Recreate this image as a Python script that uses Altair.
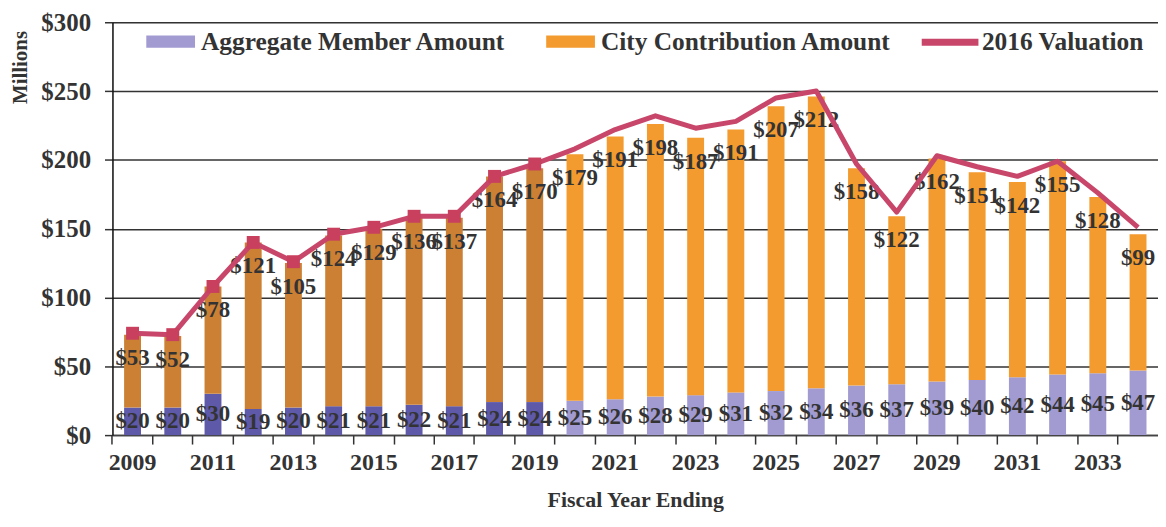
import altair as alt
import pandas as pd

years = [str(y) for y in range(2009, 2035)]
member = [20, 20, 30, 19, 20, 21, 21, 22, 21, 24, 24, 25, 26, 28, 29, 31, 32, 34, 36, 37, 39, 40, 42, 44, 45, 47]
city = [53, 52, 78, 121, 105, 124, 129, 136, 137, 164, 170, 179, 191, 198, 187, 191, 207, 212, 158, 122, 162, 151, 142, 155, 128, 99]
valuation = [74, 73, 108, 140, 126, 146, 151, 159, 159, 188, 197, 208, 222, 232, 223, 228, 245, 250, 197, 162, 203, 195, 188, 199, 176, 151]
last_actual = 2019

MEMBER = "Aggregate Member Amount"
CITY = "City Contribution Amount"
MEMBER_OLD = "Member (historical)"
CITY_OLD = "City (historical)"
VAL = "2016 Valuation"

rows = []
for i, y in enumerate(years):
    old = int(y) <= last_actual
    rows.append({"year": y, "key": MEMBER_OLD if old else MEMBER, "value": member[i], "order": 0})
    rows.append({"year": y, "key": CITY_OLD if old else CITY, "value": city[i], "order": 1})
bars_df = pd.DataFrame(rows)

lab_df = pd.DataFrame({
    "year": years,
    "member": member,
    "city": city,
    "total": [m + c for m, c in zip(member, city)],
    "valuation": valuation,
    "yr": [int(y) for y in years],
})
lab_df["member_mid"] = lab_df["member"] / 2
lab_df["member_lab"] = ["$" + str(v) for v in member]
lab_df["city_lab"] = ["$" + str(v) for v in city]
lab_df["series"] = VAL

FONT = "Liberation Serif"
TXT = "#333333"

xscale = alt.Scale(paddingInner=0.58, paddingOuter=0.288, align=0.503)
xaxis = alt.Axis(
    title="Fiscal Year Ending", orient="bottom", ticks=False,
    labelExpr="toNumber(datum.value) % 2 == 1 ? datum.label : ''",
    labelAngle=0, labelFont=FONT, labelFontSize=24, labelFontWeight="bold",
    labelColor=TXT, labelPadding=16, titleFont=FONT, titleFontSize=22,
    titleFontWeight="bold", titleColor=TXT, titlePadding=15,
    domainColor="#444444", domainWidth=1.5, grid=False,
)
X = alt.X("year:N", scale=xscale, axis=xaxis)

yscale = alt.Scale(domain=[0, 300])
yaxis = alt.Axis(
    title="Millions", values=[0, 50, 100, 150, 200, 250, 300],
    labelExpr="'$' + datum.value", labelFont=FONT, labelFontSize=25,
    labelFontWeight="bold", labelColor=TXT, labelPadding=14,
    tickSize=8, tickColor="#333333", tickWidth=1.5,
    domainColor="#111111", domainWidth=1.5,
    grid=True, gridColor="#333333", gridWidth=1.5,
    titleFont=FONT, titleFontSize=21, titleFontWeight="bold", titleColor=TXT,
    titlePadding=10, titleY=45, titleAlign="center",
)

bars = alt.Chart(bars_df).mark_bar().encode(
    x=X,
    y=alt.Y("sum(value):Q", scale=yscale, axis=yaxis, stack="zero"),
    color=alt.Color(
        "key:N",
        scale=alt.Scale(
            domain=[MEMBER, CITY, MEMBER_OLD, CITY_OLD],
            range=["#A19BD2", "#F39B2E", "#5E59A9", "#CB8034"],
        ),
        legend=alt.Legend(
            title=None, values=[MEMBER, CITY], orient="none", direction="horizontal",
            legendX=34, legendY=-5,
            symbolType="M-1,-0.25H1V0.25H-1Z", symbolSize=2401, symbolStrokeWidth=0,
            labelFont=FONT, labelFontSize=25.5, labelFontWeight="bold", labelColor=TXT,
            labelOffset=6, columnPadding=40, labelLimit=400,
        ),
    ),
    order=alt.Order("order:Q"),
)

member_text = alt.Chart(lab_df).mark_text(
    font=FONT, fontSize=23, fontWeight="bold", color=TXT, baseline="middle"
).encode(x=X, y=alt.Y("member_mid:Q", scale=yscale), text="member_lab:N")

city_text = alt.Chart(lab_df).mark_text(
    font=FONT, fontSize=23, fontWeight="bold", color=TXT, baseline="middle", dy=24
).encode(x=X, y=alt.Y("total:Q", scale=yscale), text="city_lab:N")

line = alt.Chart(lab_df).mark_line(strokeWidth=5, strokeJoin="round").encode(
    x=X,
    y=alt.Y("valuation:Q", scale=yscale),
    stroke=alt.Stroke(
        "series:N",
        scale=alt.Scale(domain=[VAL], range=["#C8466A"]),
        legend=alt.Legend(
            title=None, orient="none", legendX=810, legendY=-12,
            symbolType="stroke", symbolSize=3249, symbolStrokeWidth=7,
            labelFont=FONT, labelFontSize=25.5, labelFontWeight="bold", labelColor=TXT,
            labelOffset=0, labelLimit=400,
        ),
    ),
)

markers = alt.Chart(lab_df).transform_filter(
    alt.datum.yr <= last_actual
).mark_point(shape="square", filled=True, size=169, opacity=1, color="#C8405E").encode(
    x=X, y=alt.Y("valuation:Q", scale=yscale)
)

tick_axis = alt.Chart(lab_df).mark_point(opacity=0).encode(
    x=alt.X(
        "year:N",
        scale=xscale,
        axis=alt.Axis(
            orient="bottom", title=None, labels=False, domain=False,
            bandPosition=-0.69, tickSize=9, tickColor="#333333", tickWidth=1.5,
            grid=False,
        ),
    ),
    y=alt.value(0),
)

main = alt.layer(bars, member_text, city_text, line, markers)
chart = alt.layer(main, tick_axis).resolve_axis(x="independent").properties(
    width=1051, height=415,
    autosize=alt.AutoSizeParams(type="none"),
    padding={"left": 105, "top": 13, "right": 0, "bottom": 82},
).configure_view(stroke=None).configure(background="white")

chart.save("out.html", embed_options={"renderer": "svg", "actions": False})
